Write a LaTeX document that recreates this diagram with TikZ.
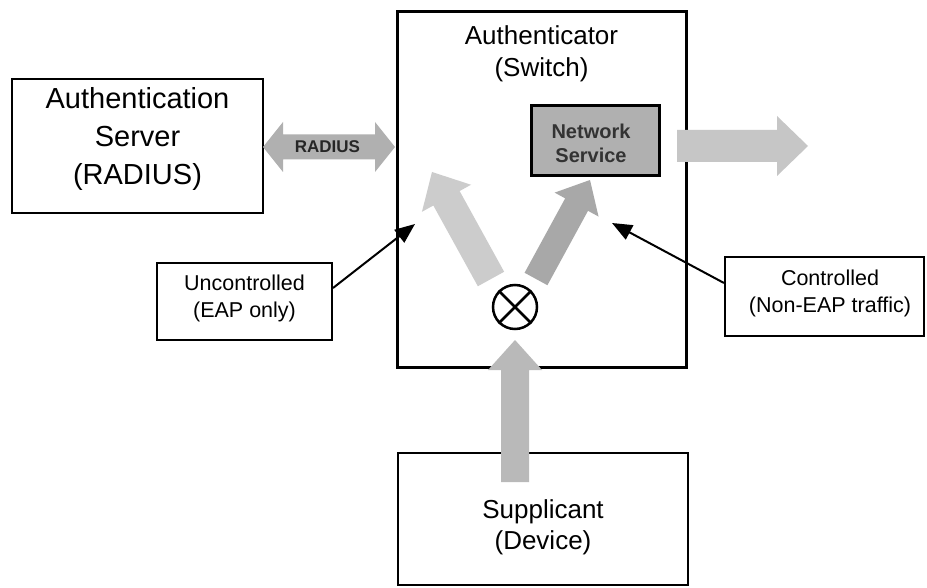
\documentclass[tikz,border=0pt]{standalone}
\usepackage{fontspec}
\setmainfont{Liberation Sans}
\usetikzlibrary{calc,arrows.meta}

% Block arrow from tail #1 to tip #2: shaft half-width #3, head half-width #4,
% head length #5, fill #6
\newcommand{\blockarrow}[6]{%
  \coordinate (ba-base) at ($(#2)!#5!(#1)$);
  \fill[#6] ($(#1)!#3!90:(#2)$) -- ($(ba-base)!#3!90:(#2)$) -- ($(ba-base)!#4!90:(#2)$)
    -- (#2) -- ($(ba-base)!#4!-90:(#2)$) -- ($(ba-base)!#3!-90:(#2)$)
    -- ($(#1)!#3!-90:(#2)$) -- cycle;}

% Double-headed block arrow between #1 and #2 (same parameters)
\newcommand{\dblarrow}[6]{%
  \coordinate (da-a) at ($(#1)!#5!(#2)$);
  \coordinate (da-b) at ($(#2)!#5!(#1)$);
  \fill[#6] (#1) -- ($(da-a)!#4!90:(#2)$) -- ($(da-a)!#3!90:(#2)$)
    -- ($(da-b)!#3!90:(#2)$) -- ($(da-b)!#4!90:(#2)$) -- (#2)
    -- ($(da-b)!#4!-90:(#2)$) -- ($(da-b)!#3!-90:(#2)$)
    -- ($(da-a)!#3!-90:(#2)$) -- ($(da-a)!#4!-90:(#2)$) -- cycle;}

\begin{document}
\begin{tikzpicture}[x=1pt,y=-1pt,
  box/.style={draw=black, line width=2.5pt, inner sep=0pt},
  txt/.style={align=center, inner sep=0pt},
  callout/.style={draw=black, line width=2pt, -{Triangle[length=20pt,width=16pt]}},
]
\useasboundingbox (0,0) rectangle (927,588);
\fill[white] (0,0) rectangle (927,588);

% boxes
\node[box, minimum width=251pt, minimum height=134pt] (server) at (137.5,146) {};
\node[box, line width=3pt, minimum width=289pt, minimum height=355pt] (auth) at (541.5,189.5) {};
\node[box, line width=3pt, fill=gray!62, minimum width=128pt, minimum height=70pt] (netsvc) at (595,141) {};
\node[box, minimum width=290pt, minimum height=132pt] (supp) at (543,519) {};
\node[box, line width=2pt, minimum width=175pt, minimum height=77pt] (unc) at (244.5,301.5) {};
\node[box, line width=2pt, minimum width=199pt, minimum height=79pt] (ctl) at (824.5,296.5) {};

% port switch symbol
\node[draw=black, circle, line width=2.5pt, minimum size=44pt, inner sep=0pt] (gate) at (515,307) {};
\draw[line width=2.5pt] (gate.north west) -- (gate.south east)
                        (gate.north east) -- (gate.south west);

% traffic arrows
\coordinate (radL) at (263,147);
\coordinate (radR) at (395,147);
\dblarrow{radL}{radR}{12.5pt}{25pt}{20pt}{gray!62}

\coordinate (outT) at (677,146);
\coordinate (outH) at (808,146);
\blockarrow{outT}{outH}{16pt}{30pt}{31pt}{gray!45}

\coordinate (upT) at (515,482);
\coordinate (upH) at (515,340);
\blockarrow{upT}{upH}{14pt}{27pt}{30pt}{gray!55}

\coordinate (uncT) at (491,279);
\coordinate (uncH) at (432,172);
\blockarrow{uncT}{uncH}{15pt}{28pt}{30pt}{gray!40}

\coordinate (ctlT) at (536,279);
\coordinate (ctlH) at (590,180);
\blockarrow{ctlT}{ctlH}{13pt}{25pt}{28pt}{gray!68}

% callout pointers
\coordinate (unctip) at (415,224);
\coordinate (ctltip) at (612,223);
\draw[callout] ($(unc.east)+(0,-13.5)$) -- (unctip);
\draw[callout] ($(ctl.west)+(0,-13.5)$) -- (ctltip);

% texts
\node[txt, font=\fontsize{29}{38}\selectfont] (servertxt) at (137.5,139) {Authentication\\Server\\(RADIUS)};
\node[txt, font=\fontsize{26}{32}\selectfont] (authtxt) at (541.5,54) {Authenticator\\(Switch)};
\node[txt, text=black!80, font=\bfseries\fontsize{20}{24}\selectfont] (netsvctxt) at (591,143) {Network\\Service};
\node[txt, font=\fontsize{26}{31}\selectfont] (supptxt) at (543,527.5) {Supplicant\\(Device)};
\node[txt, font=\fontsize{21.5}{27}\selectfont] (unctxt) at (244.5,298.5) {Uncontrolled\\(EAP only)};
\node[txt, font=\fontsize{21.5}{27}\selectfont] (ctltxt) at (830,293.5) {Controlled\\(Non-EAP traffic)};
\node[txt, font=\bfseries\fontsize{17}{20}\selectfont, text=black!85] (radtxt) at (327.5,147) {RADIUS};
\end{tikzpicture}
\end{document}
